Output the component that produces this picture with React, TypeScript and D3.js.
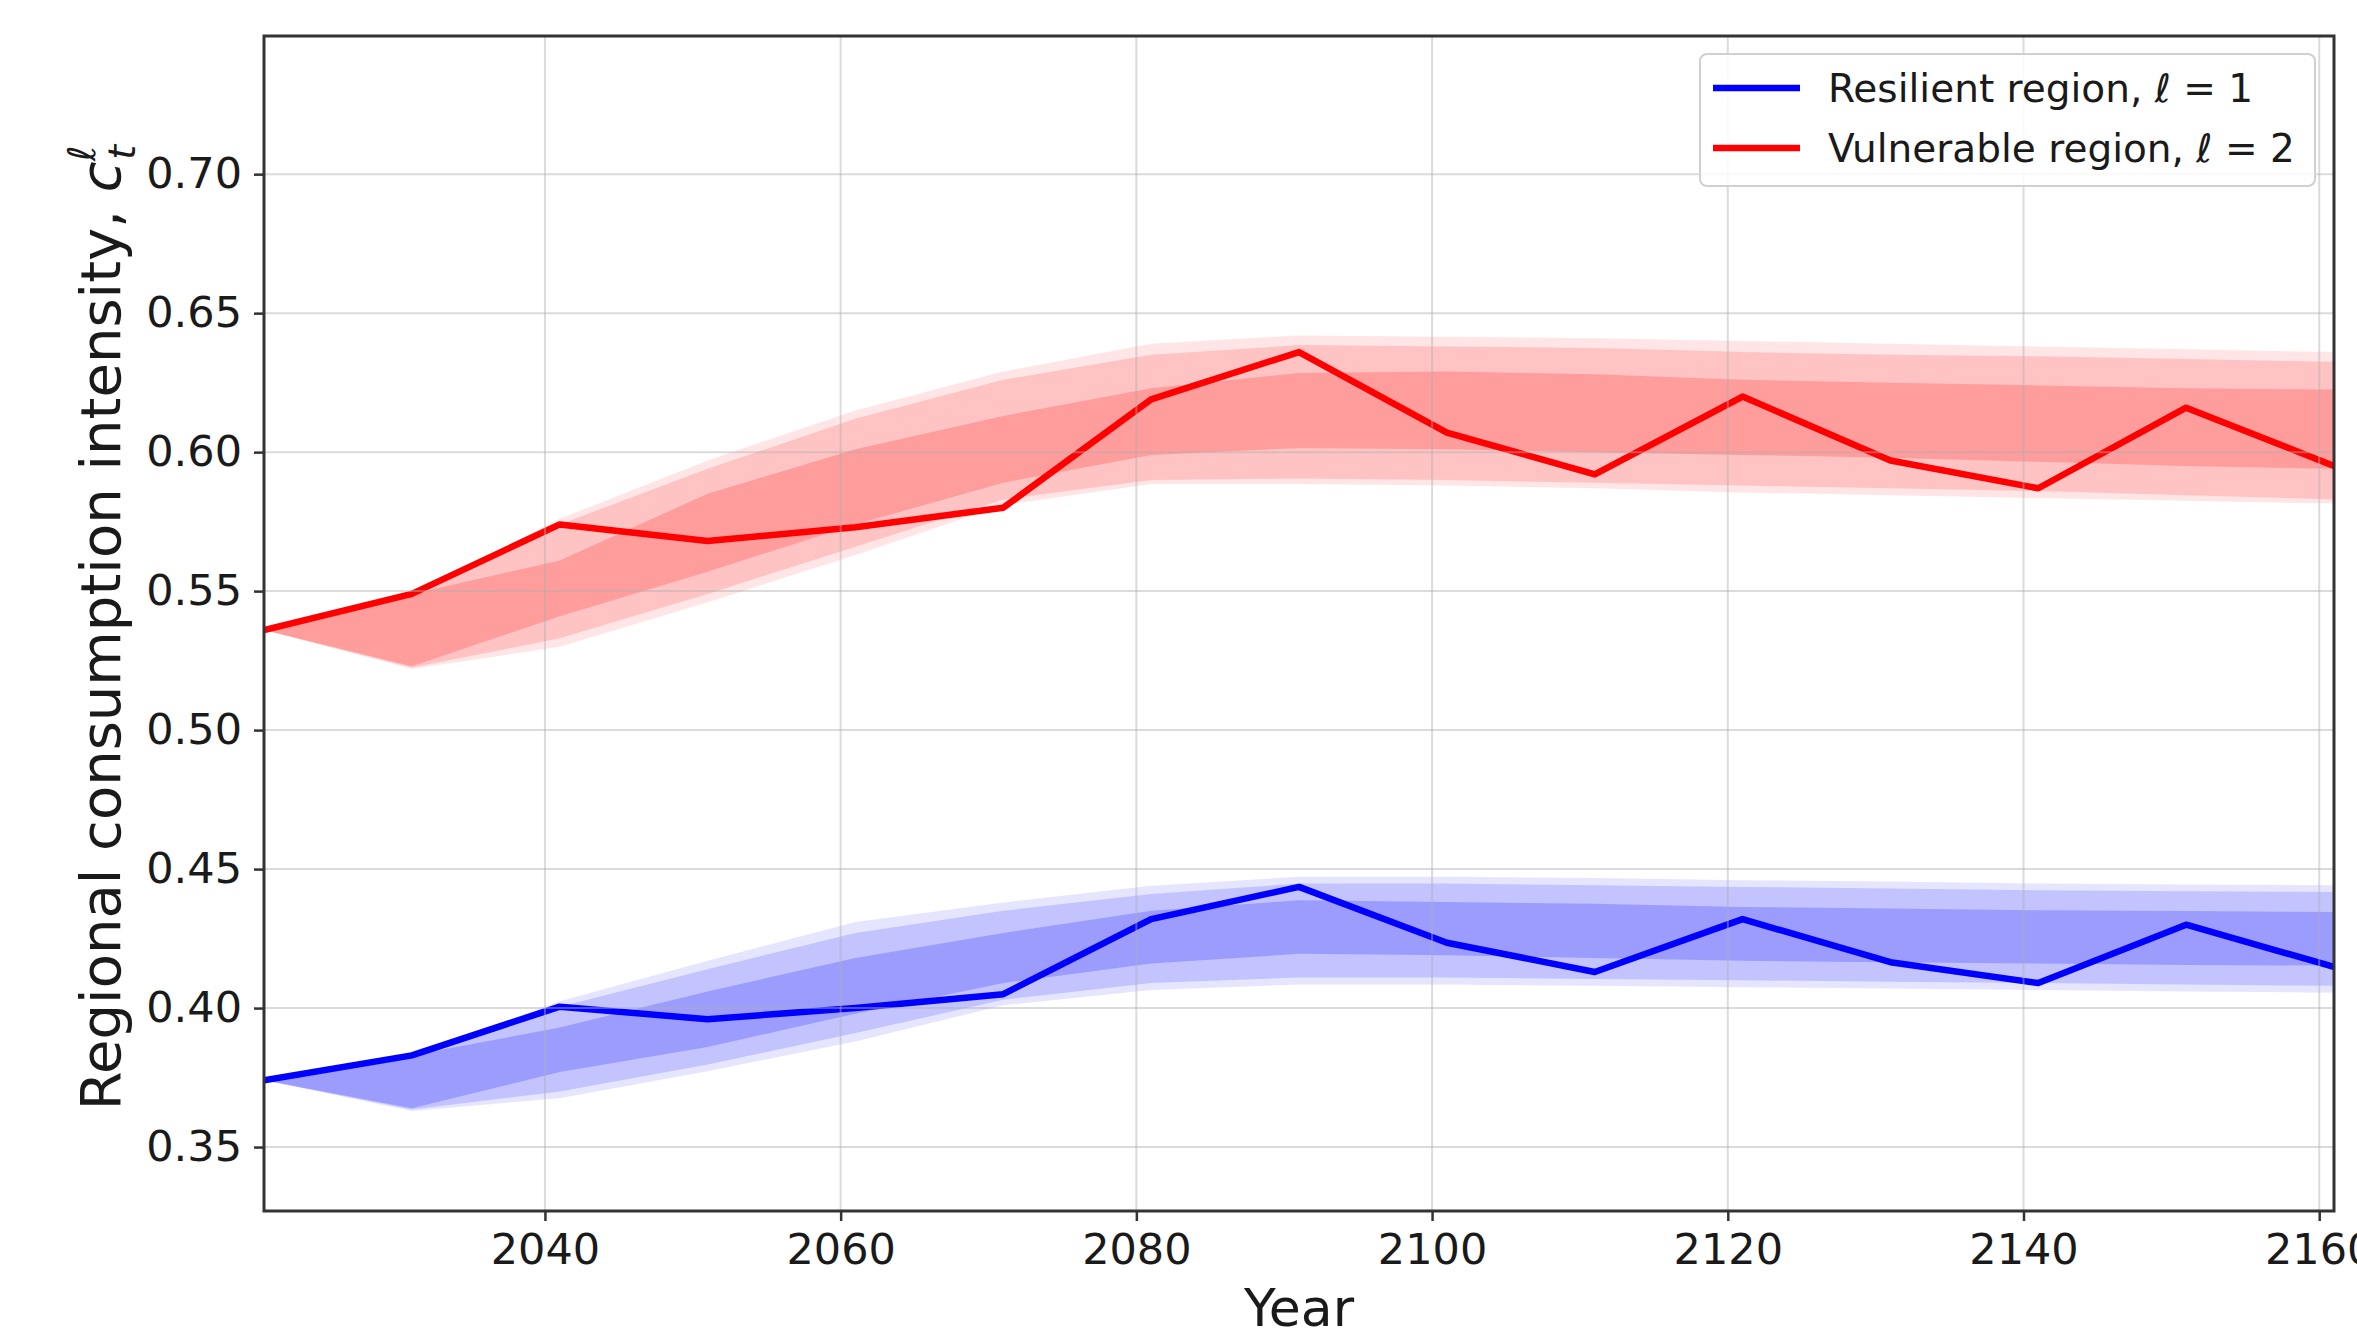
import React, { useRef, useEffect } from 'react';
import * as d3 from 'd3';

const years = [2021, 2031, 2041, 2051, 2061, 2071, 2081, 2091, 2101, 2111, 2121, 2131, 2141, 2151, 2161];
const xTicks = [2040, 2060, 2080, 2100, 2120, 2140, 2160];
const yTicks = [0.35, 0.4, 0.45, 0.5, 0.55, 0.6, 0.65, 0.7];

// vulnerable region, l = 2
const vulnLine = [0.536, 0.549, 0.574, 0.568, 0.573, 0.58, 0.619, 0.636, 0.607, 0.592, 0.62, 0.597, 0.587, 0.616, 0.595];
const vulnInnerLo = [0.536, 0.523, 0.541, 0.557, 0.574, 0.589, 0.599, 0.6015, 0.601, 0.6, 0.599, 0.598, 0.5965, 0.595, 0.594];
const vulnInnerHi = [0.536, 0.549, 0.561, 0.585, 0.601, 0.613, 0.623, 0.6285, 0.629, 0.628, 0.626, 0.625, 0.624, 0.623, 0.6225];
const vulnMidLo = [0.536, 0.5225, 0.533, 0.549, 0.566, 0.583, 0.59, 0.5905, 0.59, 0.589, 0.588, 0.587, 0.586, 0.5845, 0.583];
const vulnMidHi = [0.536, 0.549, 0.574, 0.594, 0.612, 0.626, 0.635, 0.6385, 0.638, 0.6375, 0.636, 0.635, 0.6345, 0.6335, 0.6325];
const vulnOuterLo = [0.536, 0.522, 0.53, 0.546, 0.563, 0.581, 0.5885, 0.5885, 0.588, 0.587, 0.5855, 0.5845, 0.5835, 0.5825, 0.5815];
const vulnOuterHi = [0.536, 0.549, 0.576, 0.597, 0.615, 0.629, 0.639, 0.642, 0.6415, 0.641, 0.64, 0.639, 0.638, 0.637, 0.636];

// resilient region, l = 1
const resLine = [0.374, 0.383, 0.4005, 0.396, 0.4, 0.405, 0.432, 0.4436, 0.4235, 0.413, 0.432, 0.4165, 0.409, 0.43, 0.4148];
const resInnerLo = [0.374, 0.364, 0.377, 0.386, 0.398, 0.409, 0.416, 0.4195, 0.419, 0.418, 0.417, 0.4165, 0.416, 0.4155, 0.4153];
const resInnerHi = [0.374, 0.383, 0.393, 0.406, 0.418, 0.427, 0.435, 0.4388, 0.4382, 0.4375, 0.4364, 0.4358, 0.4352, 0.4349, 0.4346];
const resMidLo = [0.374, 0.3635, 0.37, 0.3797, 0.391, 0.403, 0.409, 0.411, 0.411, 0.4105, 0.41, 0.4095, 0.409, 0.4085, 0.408];
const resMidHi = [0.374, 0.383, 0.4005, 0.414, 0.427, 0.435, 0.441, 0.4448, 0.4448, 0.4442, 0.4436, 0.443, 0.4424, 0.442, 0.4418];
const resOuterLo = [0.374, 0.363, 0.3676, 0.3773, 0.388, 0.401, 0.4065, 0.4085, 0.4085, 0.408, 0.4075, 0.407, 0.4065, 0.406, 0.4055];
const resOuterHi = [0.374, 0.383, 0.4025, 0.417, 0.431, 0.438, 0.444, 0.4472, 0.4472, 0.4468, 0.446, 0.4455, 0.4448, 0.4445, 0.4442];

const W = 2357;
const H = 1336;
const FONT = '"DejaVu Sans", sans-serif';

const App: React.FC = () => {
  const svgRef = useRef<SVGSVGElement>(null);

  useEffect(() => {
    if (!svgRef.current) return;
    const svg = d3.select(svgRef.current);
    svg.selectAll('*').remove();

    const plot = { left: 264, right: 2334, top: 36, bottom: 1211 };

    const x = d3.scaleLinear().domain([2021, 2161]).range([plot.left, plot.right]);
    const y = d3.scaleLinear().domain([0.327, 0.7497]).range([plot.bottom, plot.top]);

    svg.append('rect').attr('width', W).attr('height', H).attr('fill', '#fff');

    svg.append('defs').append('clipPath').attr('id', 'plot-clip')
      .append('rect')
      .attr('x', plot.left).attr('y', plot.top)
      .attr('width', plot.right - plot.left).attr('height', plot.bottom - plot.top);

    const body = svg.append('g').attr('clip-path', 'url(#plot-clip)');

    // bands: outer, middle, inner stacked with alpha
    const band = (lo: number[], hi: number[]) =>
      d3.area<number>()
        .x((_, i) => x(years[i]))
        .y0((_, i) => y(lo[i]))
        .y1(d => y(d))(hi);

    const bandSets = [
      { color: '#ff0000', sets: [[vulnOuterLo, vulnOuterHi, 0.1], [vulnMidLo, vulnMidHi, 0.15], [vulnInnerLo, vulnInnerHi, 0.2]] },
      { color: '#0000ff', sets: [[resOuterLo, resOuterHi, 0.1], [resMidLo, resMidHi, 0.15], [resInnerLo, resInnerHi, 0.2]] },
    ];
    bandSets.forEach(b => {
      b.sets.forEach(([lo, hi, op]) => {
        body.append('path')
          .attr('d', band(lo as number[], hi as number[]))
          .attr('fill', b.color)
          .attr('fill-opacity', op as number);
      });
    });

    // grid
    const grid = svg.append('g').attr('stroke', '#b0b0b0').attr('stroke-opacity', 0.45).attr('stroke-width', 2);
    grid.selectAll('.vg').data(xTicks).enter().append('line')
      .attr('x1', d => x(d)).attr('x2', d => x(d))
      .attr('y1', plot.top).attr('y2', plot.bottom);
    grid.selectAll('.hg').data(yTicks).enter().append('line')
      .attr('x1', plot.left).attr('x2', plot.right)
      .attr('y1', d => y(d)).attr('y2', d => y(d));

    // lines
    const line = d3.line<number>().x((_, i) => x(years[i])).y(d => y(d));
    body.append('path').attr('d', line(resLine)).attr('fill', 'none')
      .attr('stroke', '#0000ff').attr('stroke-width', 6.5).attr('stroke-linejoin', 'round');
    body.append('path').attr('d', line(vulnLine)).attr('fill', 'none')
      .attr('stroke', '#ff0000').attr('stroke-width', 6.5).attr('stroke-linejoin', 'round');

    // axes
    const xAxis = d3.axisBottom(x).tickValues(xTicks).tickFormat(d3.format('d')).tickSize(10).tickPadding(12);
    const yAxis = d3.axisLeft(y).tickValues(yTicks).tickFormat(d3.format('.2f')).tickSize(10).tickPadding(12);

    const gx = svg.append('g').attr('transform', `translate(0,${plot.bottom})`).call(xAxis);
    const gy = svg.append('g').attr('transform', `translate(${plot.left},0)`).call(yAxis);
    [gx, gy].forEach(g => {
      g.select('.domain').remove();
      g.selectAll('.tick line').attr('stroke', '#333').attr('stroke-width', 2.5);
      g.selectAll('.tick text')
        .attr('fill', '#1a1a1a')
        .style('font-family', FONT)
        .style('font-size', '43px');
    });

    // spines
    svg.append('rect')
      .attr('x', plot.left).attr('y', plot.top)
      .attr('width', plot.right - plot.left).attr('height', plot.bottom - plot.top)
      .attr('fill', 'none').attr('stroke', '#333').attr('stroke-width', 3);

    // axis labels
    svg.append('text')
      .attr('x', (plot.left + plot.right) / 2)
      .attr('y', 1326)
      .attr('text-anchor', 'middle')
      .style('font-family', FONT)
      .style('font-size', '52px')
      .attr('fill', '#1a1a1a')
      .text('Year');

    const yl = svg.append('text')
      .attr('transform', `translate(120,${(plot.top + plot.bottom) / 2 + 4}) rotate(-90)`)
      .attr('text-anchor', 'middle')
      .style('font-family', FONT)
      .style('font-size', '56px')
      .attr('fill', '#1a1a1a');
    yl.append('tspan').text('Regional consumption intensity, ');
    yl.append('tspan').style('font-style', 'italic').text('c');
    yl.append('tspan').attr('dy', -25).style('font-size', '38px').style('font-style', 'italic').text('ℓ');
    yl.append('tspan').attr('dx', -14).attr('dy', 40).style('font-size', '38px').style('font-style', 'italic').text('t');

    // legend
    const lg = svg.append('g');
    lg.append('rect')
      .attr('x', 1700).attr('y', 54).attr('width', 615).attr('height', 132)
      .attr('rx', 7)
      .attr('fill', '#fff').attr('fill-opacity', 0.85)
      .attr('stroke', '#d0d0d0').attr('stroke-width', 2);
    const legendItems = [
      { label: 'Resilient region, ', n: '1', color: '#0000ff' },
      { label: 'Vulnerable region, ', n: '2', color: '#ff0000' },
    ];
    legendItems.forEach((it, i) => {
      const cy = 88 + i * 60;
      lg.append('line')
        .attr('x1', 1713).attr('x2', 1800).attr('y1', cy).attr('y2', cy)
        .attr('stroke', it.color).attr('stroke-width', 6.5);
      const t = lg.append('text')
        .attr('x', 1828).attr('y', cy + 14)
        .style('font-family', FONT)
        .style('font-size', '39px')
        .attr('fill', '#1a1a1a');
      t.append('tspan').text(it.label);
      t.append('tspan').style('font-style', 'italic').text('ℓ');
      t.append('tspan').text(` = ${it.n}`);
    });
  }, []);

  return (
    <svg
      ref={svgRef}
      width={W}
      height={H}
      style={{ position: 'absolute', left: 0, top: 0, display: 'block' }}
      aria-label="Regional consumption intensity over time"
    />
  );
};

export default App;
